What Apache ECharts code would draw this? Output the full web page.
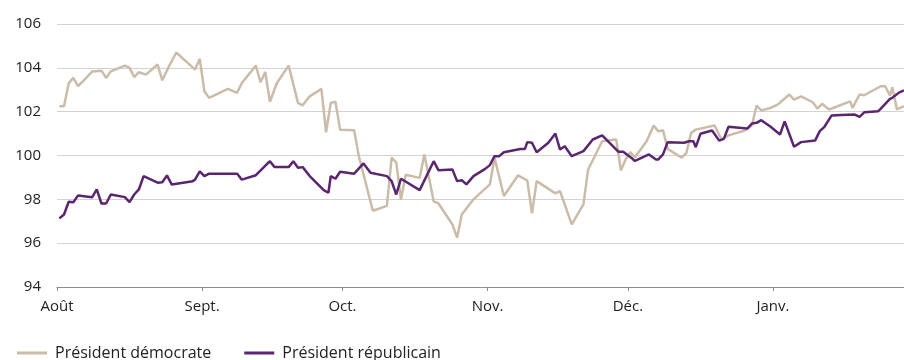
<!DOCTYPE html>
<html>
<head>
    <title>Président démocrate / républicain</title>
    <meta charset="utf-8">
    <script type="text/javascript" src="https://cdn.jsdelivr.net/npm/echarts@6/dist/echarts.min.js"></script>
</head>
<body style="margin:0;">
    <div id="chart" style="width: 904px; height:360px;"></div>
    <script>
        // day offsets from 1 August
        const monthStarts = [0, 31, 61, 92, 122, 153];
        const monthLabels = ['Août', 'Sept.', 'Oct.', 'Nov.', 'Déc.', 'Janv.'];
        const seriesNames = ['Président démocrate', 'Président républicain'];

        const democrate = [
            [0.5,102.25],[1.5,102.25],[2.5,103.3],[3.5,103.54],[4.5,103.16],[6,103.49],[7.5,103.83],[9.5,103.87],
            [10.5,103.54],[11.5,103.84],[14.5,104.1],[15.5,104.0],[16.5,103.58],[17.5,103.8],[19,103.69],[21.5,104.15],
            [22.5,103.43],[24,104.1],[25.5,104.7],[29.5,103.92],[30.5,104.42],[31.5,102.93],[32.5,102.63],[36.5,103.04],
            [38.5,102.86],[39.5,103.31],[42.5,104.1],[43.5,103.34],[44.5,103.81],[45.5,102.45],[47,103.31],[49.5,104.1],
            [51.5,102.4],[52.5,102.29],[54,102.7],[56.5,103.04],[57.5,101.06],[58.5,102.4],[59.5,102.45],[60.5,101.18],
            [63.5,101.15],[64.5,99.97],[67.5,97.48],[70.5,97.7],[71.5,99.9],[72.5,99.68],[73.5,97.98],[74.5,99.12],
            [77.5,98.98],[78.5,100.05],[80.5,97.91],[81.5,97.82],[84.5,96.85],[85.5,96.25],[86.5,97.31],[89,98.0],
            [92.5,98.68],[93.5,99.9],[95.5,98.15],[98.5,99.09],[100.5,98.86],[101.5,97.36],[102.5,98.83],[106.5,98.27],
            [107.5,98.37],[110,96.86],[112.5,97.77],[113.5,99.36],[116.5,100.65],[119.5,100.73],[120.5,99.32],[121.5,99.82],
            [122.5,100.15],[123.5,99.92],[126,100.65],[127.5,101.37],[128.5,101.1],[129.5,101.15],[130.5,100.3],[133.5,99.9],
            [134.5,100.12],[135.5,101.03],[136.5,101.18],[140.5,101.37],[142,100.73],[143.5,100.92],[147,101.14],[148.5,101.37],
            [149.5,102.28],[150.5,102.06],[152.5,102.17],[154,102.32],[156.5,102.78],[157.5,102.55],[159,102.7],[161.5,102.43],
            [162.5,102.14],[163.5,102.36],[165,102.1],[169.5,102.47],[170,102.17],[171.5,102.78],[172.5,102.75],[176,103.16],
            [177,103.16],[178,102.73],[178.5,103.11],[179.5,102.1],[181,102.25]
        ];

        const republicain = [
            [0.5,97.13],[1.5,97.31],[2.5,97.89],[3.5,97.87],[4.5,98.18],[7.5,98.09],[8.5,98.45],[9.5,97.81],
            [10.5,97.81],[11.5,98.22],[14.5,98.1],[15.5,97.87],[16.5,98.22],[17.5,98.45],[18.5,99.06],[21.5,98.76],
            [22.5,98.78],[23.5,99.09],[24.5,98.68],[29,98.83],[29.5,98.9],[30.5,99.28],[31.5,99.06],[32.5,99.17],
            [38.5,99.17],[39.5,98.9],[42.5,99.1],[45.5,99.74],[46.5,99.47],[49.5,99.47],[50.5,99.74],[51.5,99.44],
            [52.5,99.47],[54,99.06],[57,98.42],[58,98.3],[58.5,99.06],[59.5,98.94],[60.5,99.26],[63.5,99.17],
            [65.5,99.64],[67,99.21],[70.5,99.06],[71.5,98.83],[72.5,98.22],[73.5,98.94],[77.5,98.42],[80.5,99.74],
            [81.5,99.33],[84.5,99.36],[85.5,98.83],[86.5,98.87],[87.5,98.68],[89,99.06],[91.5,99.39],[92.5,99.56],
            [93.5,99.97],[94.5,99.97],[95.5,100.15],[99,100.3],[100,100.3],[100.5,100.61],[101.5,100.58],[102.5,100.15],
            [105,100.58],[106.5,101.0],[107.5,100.27],[108.5,100.42],[110,99.97],[112.5,100.2],[114.5,100.73],[116.5,100.92],
            [120,100.17],[121,100.17],[123,99.85],[123.5,99.75],[126.5,100.05],[128,99.82],[128.5,99.82],[129.5,100.05],
            [130.5,100.61],[134,100.58],[135,100.65],[136,100.65],[136.5,100.38],[137.5,100.99],[140,101.14],[141.5,100.68],
            [142.5,100.76],[143.5,101.31],[147.5,101.23],[148.5,101.46],[149.5,101.49],[150.5,101.61],[152.5,101.31],[154.5,100.96],
            [155.5,101.56],[157.5,100.4],[159,100.61],[162,100.68],[163,101.11],[164,101.31],[165.5,101.82],[167.5,101.85],
            [170.5,101.87],[171.5,101.76],[172.5,101.97],[175.5,102.02],[176,102.13],[178,102.58],[178.5,102.63],[180,102.88],
            [181,102.97]
        ];

        const font = 'Open Sans';
        const chart = echarts.init(document.getElementById('chart'));
        chart.setOption({
            animation: false,
            textStyle: { fontFamily: font },
            grid: { left: 57, right: 0, top: 24, bottom: 73 },
            legend: {
                left: 12, top: 340,
                itemWidth: 30, itemHeight: 3, itemGap: 33,
                textStyle: { fontFamily: font, fontSize: 16, color: '#222', padding: [0, 0, 0, 3] },
                data: [
                    { name: seriesNames[0], icon: 'rect' },
                    { name: seriesNames[1], icon: 'rect' }
                ]
            },
            xAxis: {
                type: 'value', min: 0, max: 181,
                axisLine: { lineStyle: { color: '#8c8c8c', width: 1 } },
                axisTick: { customValues: monthStarts, length: 4, lineStyle: { color: '#8c8c8c' } },
                axisLabel: {
                    customValues: monthStarts,
                    formatter: v => monthLabels[monthStarts.indexOf(v)],
                    fontSize: 15, color: '#222', margin: 12
                },
                splitLine: { show: false }
            },
            yAxis: {
                type: 'value', min: 94, max: 106, interval: 2,
                axisLine: { show: false },
                axisTick: { show: false },
                axisLabel: { fontSize: 15, color: '#222', margin: 16 },
                splitLine: { lineStyle: { color: '#d2d2d2', width: 1.2 } }
            },
            series: [
                {
                    name: seriesNames[0], type: 'line', data: democrate,
                    symbol: 'none', itemStyle: { color: '#cbbca9' },
                    lineStyle: { color: '#cbbca9', width: 2.5 }
                },
                {
                    name: seriesNames[1], type: 'line', data: republicain,
                    symbol: 'none', itemStyle: { color: '#5b2670' },
                    lineStyle: { color: '#5b2670', width: 2.5 }
                }
            ]
        });
    </script>
</body>
</html>
